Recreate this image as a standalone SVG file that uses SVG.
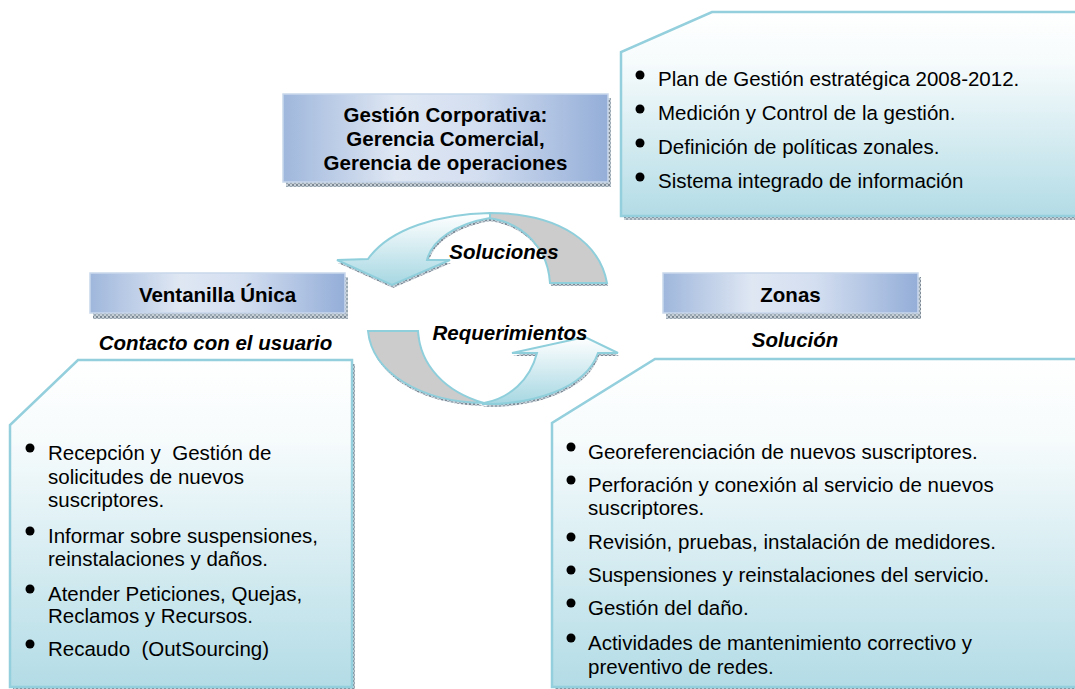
<svg xmlns="http://www.w3.org/2000/svg" width="1075" height="689" viewBox="0 0 1075 689">
<defs>
<style>
text{font-family:"Liberation Sans",Arial,sans-serif;fill:#000;}
.t{font-size:20.5px;white-space:pre;}
.b{font-size:20.5px;font-weight:bold;}
.bi{font-size:20.5px;font-weight:bold;font-style:italic;}
.box{fill:url(#boxg);stroke:#c9d7ec;stroke-width:1.5;}
.call{fill:url(#callg);stroke:#93cfdc;stroke-width:2.5;}
.sh{fill:url(#tex);}
.dot{fill:#000;}
.arrL{fill:url(#arrg);stroke:#8fcfdc;stroke-width:2;}
.arrG{fill:#cccccc;stroke:#8fcfdc;stroke-width:2;}
</style>
<pattern id="tex" width="4" height="4" patternUnits="userSpaceOnUse">
<rect width="4" height="4" fill="#c6cfd6"/>
<rect width="2" height="2" fill="#7d8a96"/>
<rect x="2" y="2" width="2" height="2" fill="#9aa8b4"/>
</pattern>
<linearGradient id="boxg" x1="0" y1="0" x2="1" y2="0">
<stop offset="0" stop-color="#9fb7dc"/>
<stop offset="0.35" stop-color="#dfe7f3"/>
<stop offset="0.6" stop-color="#d3def0"/>
<stop offset="1" stop-color="#94aed8"/>
</linearGradient>
<linearGradient id="callg" x1="0" y1="0" x2="0" y2="1">
<stop offset="0" stop-color="#ffffff"/>
<stop offset="0.25" stop-color="#f6fbfc"/>
<stop offset="1" stop-color="#b3dce6"/>
</linearGradient>
<linearGradient id="arrg" x1="0" y1="0" x2="0" y2="1">
<stop offset="0" stop-color="#ffffff"/>
<stop offset="1" stop-color="#a6d7e2"/>
</linearGradient>
</defs>
<rect width="1075" height="689" fill="#ffffff"/>

<g id="callout-top">
<path class="sh" d="M715,16 L1080,16 L1080,220 L624,220 L624,56 Z"/>
<path class="call" d="M712,12 L1080,12 L1080,216 L621,216 L621,52 Z"/>
<circle class="dot" cx="640" cy="75" r="4.5"/>
<text class="t" x="658" y="86">Plan de Gestión estratégica 2008-2012.</text>
<circle class="dot" cx="640" cy="109" r="4.5"/>
<text class="t" x="658" y="120">Medición y Control de la gestión.</text>
<circle class="dot" cx="640" cy="143" r="4.5"/>
<text class="t" x="658" y="154">Definición de políticas zonales.</text>
<circle class="dot" cx="640" cy="177" r="4.5"/>
<text class="t" x="658" y="188">Sistema integrado de información</text>
</g>

<g id="gestion">
<rect class="sh" x="286" y="98" width="325" height="89"/>
<rect class="box" x="283" y="94" width="325" height="88"/>
<text class="b" x="445.5" y="122" text-anchor="middle">Gestión Corporativa:</text>
<text class="b" x="445.5" y="146" text-anchor="middle">Gerencia Comercial,</text>
<text class="b" x="445.5" y="170" text-anchor="middle">Gerencia de operaciones</text>
</g>

<g id="ventanilla">
<rect class="sh" x="93" y="277" width="255" height="42"/>
<rect class="box" x="90" y="273" width="255" height="40"/>
<text class="b" x="217.5" y="302" text-anchor="middle">Ventanilla Única</text>
<text class="bi" x="215.5" y="350" text-anchor="middle">Contacto con el usuario</text>
</g>

<g id="zonas">
<rect class="sh" x="666" y="277" width="255" height="42"/>
<rect class="box" x="663" y="273" width="255" height="40"/>
<text class="b" x="790.5" y="302" text-anchor="middle">Zonas</text>
<text class="bi" x="795" y="347" text-anchor="middle">Solución</text>
</g>

<g id="callout-left">
<path class="sh" d="M81,364 L355,364 L355,691 L13,691 L13,429 Z"/>
<path class="call" d="M78,360 L352,360 L352,687 L10,687 L10,425 Z"/>
<circle class="dot" cx="30" cy="448" r="4.5"/>
<text class="t" x="48" y="460">Recepción y  Gestión de</text>
<text class="t" x="48" y="484">solicitudes de nuevos</text>
<text class="t" x="48" y="507">suscriptores.</text>
<circle class="dot" cx="30" cy="531" r="4.5"/>
<text class="t" x="48" y="543">Informar sobre suspensiones,</text>
<text class="t" x="48" y="566">reinstalaciones y daños.</text>
<circle class="dot" cx="30" cy="589" r="4.5"/>
<text class="t" x="48" y="601">Atender Peticiones, Quejas,</text>
<text class="t" x="48" y="623">Reclamos y Recursos.</text>
<circle class="dot" cx="30" cy="644" r="4.5"/>
<text class="t" x="48" y="656">Recaudo  (OutSourcing)</text>
</g>

<g id="callout-right">
<path class="sh" d="M658,363 L1080,363 L1080,692 L555,692 L555,427 Z"/>
<path class="call" d="M655,359 L1080,359 L1080,687 L552,687 L552,423 Z"/>
<circle class="dot" cx="571" cy="447" r="4.5"/>
<text class="t" x="588" y="459">Georeferenciación de nuevos suscriptores.</text>
<circle class="dot" cx="571" cy="480" r="4.5"/>
<text class="t" x="588" y="492">Perforación y conexión al servicio de nuevos</text>
<text class="t" x="588" y="515">suscriptores.</text>
<circle class="dot" cx="571" cy="537" r="4.5"/>
<text class="t" x="588" y="549">Revisión, pruebas, instalación de medidores.</text>
<circle class="dot" cx="571" cy="570" r="4.5"/>
<text class="t" x="588" y="582">Suspensiones y reinstalaciones del servicio.</text>
<circle class="dot" cx="571" cy="603" r="4.5"/>
<text class="t" x="588" y="615">Gestión del daño.</text>
<circle class="dot" cx="571" cy="638" r="4.5"/>
<text class="t" x="588" y="650">Actividades de mantenimiento correctivo y</text>
<text class="t" x="588" y="674">preventivo de redes.</text>
</g>

<g id="connectors">
<g id="arrow-soluciones">
<g transform="translate(1,3)">
<path class="sh" d="M490,213 C563,213 600,245 607,283 L550,283 C548,250 525,222 487,218 Z"/>
<path class="sh" d="M490,213 C440,214 390,228 368,259 L337,260 L392,285 L450,260 L427,260 C432,240 455,224 490,218 Z"/>
</g>
<path class="arrG" d="M490,213 C563,213 600,245 607,283 L550,283 C548,250 525,222 487,218 Z"/>
<path class="arrL" d="M490,213 C440,214 390,228 368,259 L337,260 L392,285 L450,260 L427,260 C432,240 455,224 490,218 Z"/>
<text class="bi" x="504" y="259" text-anchor="middle">Soluciones</text>
</g>
<g id="arrow-requerimientos">
<g transform="translate(1,3)">
<path class="sh" d="M368,331 L418,331 C420,365 445,392 484,403 C420,402 372,372 368,331 Z"/>
<path class="sh" d="M482,404 C530,405 585,390 598,353 L618,353 L585,337 L512,353 L537,353 C530,380 510,398 484,403 Z"/>
</g>
<path class="arrG" d="M368,331 L418,331 C420,365 445,392 484,403 C420,402 372,372 368,331 Z"/>
<path class="arrL" d="M482,404 C530,405 585,390 598,353 L618,353 L585,337 L512,353 L537,353 C530,380 510,398 484,403 Z"/>
<text class="bi" x="510" y="340" text-anchor="middle">Requerimientos</text>
</g>
</g>
</svg>
